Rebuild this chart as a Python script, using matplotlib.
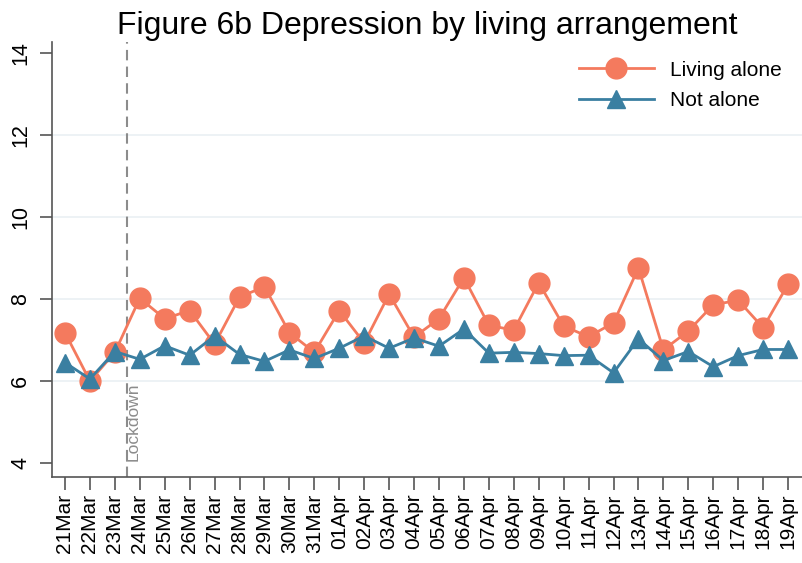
import numpy as np
import matplotlib
matplotlib.use("Agg")
import matplotlib.pyplot as plt

plt.rcParams['font.family'] = ['Liberation Sans', 'DejaVu Sans']

# dates 21 Mar - 19 Apr
dates = ["21Mar", "22Mar", "23Mar", "24Mar", "25Mar", "26Mar", "27Mar", "28Mar",
         "29Mar", "30Mar", "31Mar", "01Apr", "02Apr", "03Apr", "04Apr", "05Apr",
         "06Apr", "07Apr", "08Apr", "09Apr", "10Apr", "11Apr", "12Apr", "13Apr",
         "14Apr", "15Apr", "16Apr", "17Apr", "18Apr", "19Apr"]

living_alone = [7.18, 6.0, 6.7, 8.02, 7.52, 7.72, 6.9, 8.05, 8.3, 7.18,
                6.7, 7.72, 6.93, 8.12, 7.07, 7.52, 8.52, 7.36, 7.24, 8.4,
                7.34, 7.08, 7.42, 8.76, 6.76, 7.22, 7.86, 7.97, 7.3, 8.36]

not_alone = [6.45, 6.05, 6.72, 6.53, 6.86, 6.63, 7.1, 6.65, 6.48, 6.76,
             6.55, 6.8, 7.1, 6.8, 7.05, 6.85, 7.27, 6.68, 6.7, 6.67,
             6.62, 6.63, 6.2, 7.03, 6.5, 6.72, 6.35, 6.62, 6.77, 6.77]

lockdown_pos = 2.5  # between 23Mar and 24Mar

orange = '#f47a5e'
blue = '#3a7fa1'
grey = '#8c8c8c'

fig = plt.figure(figsize=(8.03, 5.63), dpi=100)
ax = fig.add_axes([0.0648, 0.1528, 0.9352, 0.7726])

x = np.arange(len(dates))

# grid lines at internal ticks
for gy in [6, 8, 10, 12]:
    ax.axhline(gy, color='#eaf0f3', lw=1.2, zorder=0)

ax.axvline(lockdown_pos, color=grey, ls=(0, (5, 3)), lw=1.5, zorder=1)
ax.text(lockdown_pos - 0.08, 4.05, 'Lockdown', rotation=90, ha='left', va='bottom',
        fontsize=12.5, color=grey)

ax.plot(x, living_alone, color=orange, lw=2, marker='o', markersize=15,
        label='Living alone', zorder=3)
ax.plot(x, not_alone, color=blue, lw=2, marker='^', markersize=13.5,
        label='Not alone', zorder=4)

ax.set_xlim(-0.52, 29.6)
ax.set_ylim(3.66, 14.27)
ax.set_yticks([4, 6, 8, 10, 12, 14])
ax.set_yticklabels(['4', '6', '8', '10', '12', '14'], rotation=90, va='center', fontsize=15.5)
ax.set_xticks(x)
ax.set_xticklabels(dates, rotation=90, fontsize=15)

for s in ['top', 'right']:
    ax.spines[s].set_visible(False)
for s in ['left', 'bottom']:
    ax.spines[s].set_color('#555555')
    ax.spines[s].set_linewidth(1.2)
ax.tick_params(axis='both', direction='out', length=9, width=1.2, color='#555555')
ax.tick_params(axis='y', pad=6)
ax.tick_params(axis='x', pad=3)

ax.set_title('Figure 6b Depression by living arrangement', fontsize=23, pad=6)

ax.legend(loc='upper right', frameon=False, fontsize=15, handlelength=3.6,
          bbox_to_anchor=(0.997, 1.0), labelspacing=0.55)

fig.savefig('out.png', dpi=100)
